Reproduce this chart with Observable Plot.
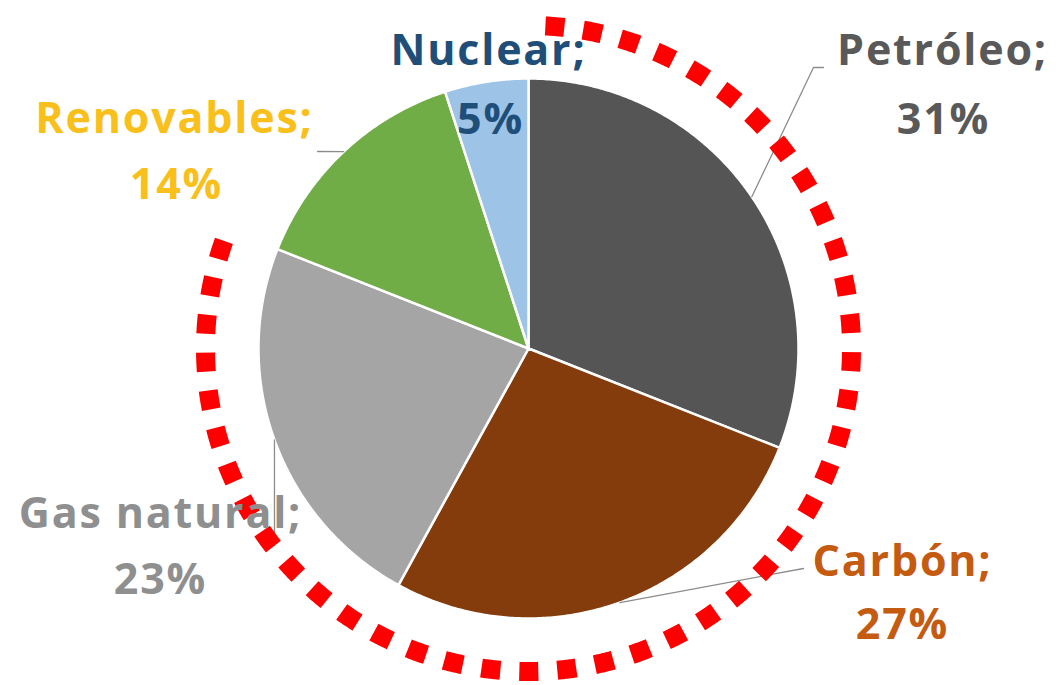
<!DOCTYPE html>
<html>
<head>
<meta charset="utf-8">
<script src="https://cdn.jsdelivr.net/npm/d3@7"></script>
<script src="https://cdn.jsdelivr.net/npm/@observablehq/plot@0.6"></script>
<style>
  html, body { margin: 0; padding: 0; background: #fff; }
  #chart svg { display: block; }
</style>
</head>
<body>
<div id="chart"></div>
<script>
// ---- Data ----
const categories = ["Petróleo", "Carbón", "Gas natural", "Renovables", "Nuclear"];
const shares = [31, 27, 23, 14, 5];
const sliceColors = ["#555555", "#843c0c", "#a5a5a5", "#70ad47", "#9dc3e6"];
const labelColors = ["#595959", "#c55a11", "#8f8f8f", "#f9c01c", "#1f4e79"];

// ---- Layout (pixel units, mapped through Plot's x/y scales) ----
const W = 1056, H = 685;
const cx = 528, cy = 348, R = 270;
const ringR = 323, ringStart = 3, ringEnd = 289.6; // degrees clockwise from 12 o'clock
// label anchor: [nameX, nameBaseline, pctX, pctBaseline]
const labelPos = [
  [942, 64, 943, 133],
  [902, 575, 902, 638],
  [160, 527, 160, 593],
  [174, 132, 176, 198],
  [488, 64, 490, 133]
];
// leader line end points (after leaving pie edge)
const leaderEnds = [
  [[813, 67], [823, 67]],
  [[803, 568]],
  [[274, 545]],
  [[317, 151]],
  []
];

const total = d3.sum(shares);
const polar = (deg, r) => {
  const a = deg * Math.PI / 180;
  return [cx + r * Math.sin(a), cy - r * Math.cos(a)];
};

// slices as closed polygons
const slicePts = [];
let acc = 0;
const mids = [];
shares.forEach((v, i) => {
  const a0 = acc / total * 360, a1 = (acc + v) / total * 360;
  acc += v;
  mids.push((a0 + a1) / 2);
  slicePts.push({cat: categories[i], color: sliceColors[i], x: cx, y: cy});
  const n = Math.max(2, Math.ceil((a1 - a0) * 2));
  for (let k = 0; k <= n; k++) {
    const [x, y] = polar(a0 + (a1 - a0) * k / n, R);
    slicePts.push({cat: categories[i], color: sliceColors[i], x, y});
  }
  slicePts.push({cat: categories[i], color: sliceColors[i], x: cx, y: cy});
});

// leader lines
const leaderPts = [];
categories.forEach((c, i) => {
  if (!leaderEnds[i].length) return;
  const [x0, y0] = polar(mids[i], R);
  leaderPts.push({cat: c, x: x0, y: y0});
  leaderEnds[i].forEach(([x, y]) => leaderPts.push({cat: c, x, y}));
});

// dashed ring
const ringPts = d3.range(ringStart, ringEnd + 0.001, 0.25).map(a => {
  const [x, y] = polar(a, ringR);
  return {x, y};
});

const names = categories.map((c, i) => ({text: c + ";", x: labelPos[i][0], y: labelPos[i][1], color: labelColors[i]}));
const pcts = categories.map((c, i) => ({text: shares[i] + "%", x: labelPos[i][2], y: labelPos[i][3], color: labelColors[i]}));

const textOpts = {
  x: "x", y: "y", text: "text", fill: "color",
  fontSize: 43, fontWeight: "bold", fontFamily: "'Open Sans', Lato, sans-serif",
  textAnchor: "middle", lineAnchor: "bottom"
};

const chart = Plot.plot({
  width: W, height: H,
  margin: 0,
  style: {letterSpacing: "1.8px", background: "#fff"},
  x: {domain: [0, W], range: [0, W], axis: null},
  y: {domain: [0, H], range: [0, H], axis: null},
  color: {type: "identity"},
  marks: [
    Plot.line(slicePts, {x: "x", y: "y", z: "cat", fill: "color", stroke: "white", strokeWidth: 2.5, strokeLinejoin: "round"}),
    Plot.line(leaderPts, {x: "x", y: "y", z: "cat", stroke: "#8c8c8c", strokeWidth: 1.3}),
    Plot.line(ringPts, {x: "x", y: "y", stroke: "#ff0000", strokeWidth: 19, strokeDasharray: "19,19", strokeLinecap: "butt"}),
    Plot.text(names, textOpts),
    Plot.text(pcts, textOpts)
  ]
});
document.getElementById("chart").appendChild(chart);
</script>
</body>
</html>
